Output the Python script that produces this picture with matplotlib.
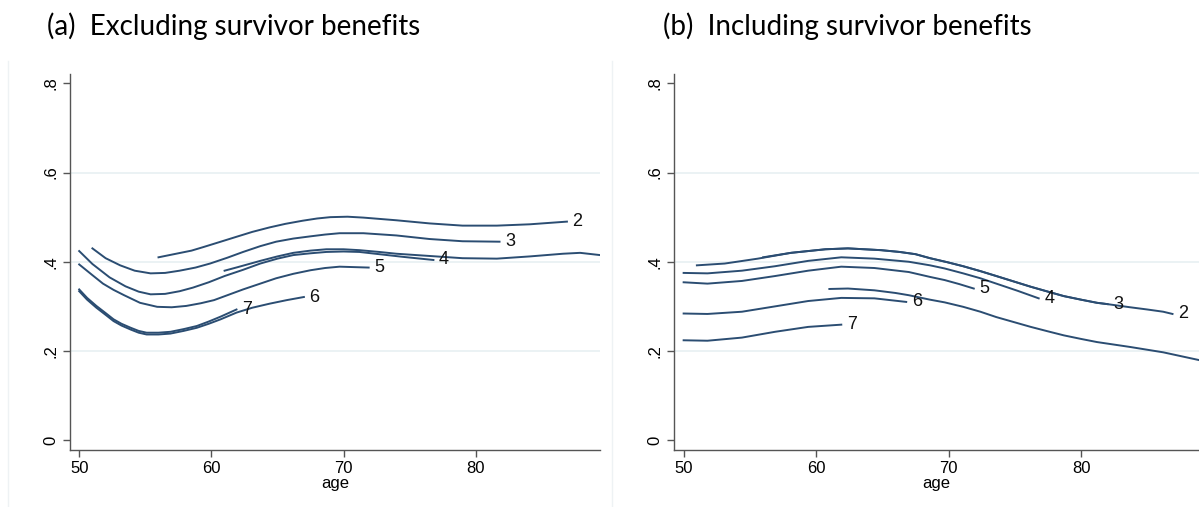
import matplotlib
matplotlib.use("Agg")
import matplotlib.pyplot as plt
from matplotlib.lines import Line2D

# ---- data (age, share) ----
# panel (a): excluding survivor benefits
a_age1 = [61, 62, 63.7, 65, 66.2, 67.5, 68.7, 70, 71.2, 72.7, 74, 76.5, 79, 81.6, 84.1, 86.6, 87.9, 89.4]
a_val1 = [0.380, 0.388, 0.402, 0.412, 0.420, 0.425, 0.428, 0.428, 0.426, 0.422, 0.418, 0.413, 0.408, 0.407, 0.412, 0.418, 0.420, 0.415]
a_age2 = [56, 57.5, 58.5, 59.4, 60.6, 61.9, 63.1, 64.4, 65.6, 66.9, 68, 69, 70.3, 71.5, 74, 76.5, 79, 81.6, 84.1, 86.9]
a_val2 = [0.410, 0.419, 0.425, 0.433, 0.444, 0.456, 0.467, 0.477, 0.485, 0.492, 0.497, 0.500, 0.501, 0.499, 0.493, 0.486, 0.481, 0.481, 0.484, 0.490]
a_age3 = [51, 52, 53.1, 54.2, 55.4, 56.5, 57.6, 58.8, 59.9, 61.2, 62.4, 63.7, 64.9, 66.2, 67.5, 68.6, 69.7, 71.5, 74, 76.5, 79, 81.8]
a_val3 = [0.430, 0.408, 0.392, 0.380, 0.374, 0.375, 0.380, 0.387, 0.396, 0.409, 0.422, 0.435, 0.445, 0.452, 0.457, 0.461, 0.464, 0.464, 0.459, 0.451, 0.446, 0.445]
a_age4 = [50, 51, 52.3, 53.5, 54.5, 55.4, 56.5, 57.6, 58.6, 59.8, 61, 62.4, 63.7, 65, 66.2, 67.5, 68.7, 70, 71.2, 72.7, 74.5, 76.8]
a_val4 = [0.424, 0.395, 0.365, 0.345, 0.333, 0.327, 0.328, 0.334, 0.342, 0.354, 0.368, 0.382, 0.396, 0.407, 0.415, 0.419, 0.422, 0.423, 0.422, 0.417, 0.411, 0.404]
a_age5 = [50, 51, 51.8, 52.6, 53.4, 54.6, 55.9, 57, 58.1, 59.2, 60.2, 61.3, 62.4, 63.7, 64.9, 66.2, 67.5, 68.6, 69.7, 71.9]
a_val5 = [0.394, 0.370, 0.351, 0.337, 0.325, 0.308, 0.299, 0.298, 0.301, 0.307, 0.314, 0.326, 0.338, 0.351, 0.363, 0.373, 0.381, 0.386, 0.389, 0.387]
a_age6 = [50, 50.6, 51.3, 52, 52.6, 53.2, 53.9, 54.5, 55.1, 56, 56.9, 57.9, 58.9, 59.8, 60.7, 61.9, 63.1, 64.4, 65.7, 67.0]
a_val6 = [0.334, 0.315, 0.297, 0.281, 0.267, 0.257, 0.248, 0.241, 0.237, 0.237, 0.239, 0.245, 0.252, 0.261, 0.271, 0.286, 0.297, 0.306, 0.314, 0.321]
a_age7 = [50, 50.6, 51.3, 52, 52.6, 53.2, 53.9, 54.5, 55.1, 56, 56.9, 57.9, 58.9, 59.8, 60.7, 61.9]
a_val7 = [0.338, 0.319, 0.301, 0.285, 0.271, 0.261, 0.252, 0.245, 0.241, 0.241, 0.243, 0.249, 0.256, 0.266, 0.277, 0.293]

# panel (b): including survivor benefits
b_age1 = [61, 62.4, 64.4, 66, 67.0, 68.6, 69.7, 71.1, 72.4, 73.6, 74.9, 76.2, 77.5, 78.7, 80, 81.2, 83.7, 86.2, 89.0]
b_val1 = [0.339, 0.340, 0.336, 0.330, 0.325, 0.315, 0.309, 0.299, 0.288, 0.276, 0.265, 0.254, 0.244, 0.235, 0.227, 0.220, 0.209, 0.197, 0.179]
b_age3 = [51, 53.1, 55.6, 58.1, 60.7, 62.4, 64.9, 66.3, 67.5, 68.6, 69.9, 71.1, 72.4, 73.6, 74.9, 76.2, 77.5, 78.7, 80, 81.2, 82.0]
b_val3 = [0.392, 0.396, 0.407, 0.420, 0.428, 0.430, 0.426, 0.422, 0.417, 0.408, 0.399, 0.390, 0.379, 0.368, 0.356, 0.344, 0.333, 0.323, 0.315, 0.308, 0.305]
b_age2 = [56, 58.1, 60.7, 62.4, 64.9, 66.3, 67.5, 68.6, 69.9, 71.1, 72.4, 73.6, 74.9, 76.2, 77.5, 78.7, 80, 81.2, 82.0, 83.7, 85, 86.2, 86.9]
b_val2 = [0.410, 0.420, 0.428, 0.430, 0.426, 0.422, 0.417, 0.408, 0.399, 0.390, 0.379, 0.368, 0.356, 0.344, 0.333, 0.323, 0.315, 0.308, 0.305, 0.298, 0.293, 0.288, 0.283]
b_age4 = [50, 51.8, 54.4, 56.9, 59.4, 61.9, 64.4, 67.0, 68.6, 69.7, 71.1, 72.4, 73.6, 75.2, 76.8]
b_val4 = [0.375, 0.374, 0.380, 0.390, 0.402, 0.410, 0.407, 0.400, 0.392, 0.385, 0.374, 0.363, 0.351, 0.335, 0.318]
b_age5 = [50, 51.8, 54.4, 56.9, 59.4, 61.9, 64.4, 67.0, 68.6, 69.7, 70.8, 71.9]
b_val5 = [0.354, 0.351, 0.357, 0.368, 0.380, 0.389, 0.386, 0.377, 0.366, 0.359, 0.350, 0.340]
b_age6 = [50, 51.8, 54.4, 56.9, 59.4, 61.9, 64.4, 66.8]
b_val6 = [0.284, 0.283, 0.288, 0.300, 0.312, 0.319, 0.318, 0.310]
b_age7 = [50, 51.8, 54.4, 56.9, 59.4, 61.9]
b_val7 = [0.224, 0.223, 0.230, 0.243, 0.254, 0.259]

panel_a = [("1", a_age1, a_val1, False), ("2", a_age2, a_val2, True), ("3", a_age3, a_val3, True),
           ("4", a_age4, a_val4, True), ("5", a_age5, a_val5, True), ("6", a_age6, a_val6, True),
           ("7", a_age7, a_val7, True)]
panel_b = [("1", b_age1, b_val1, False), ("2", b_age2, b_val2, True), ("3", b_age3, b_val3, True),
           ("4", b_age4, b_val4, True), ("5", b_age5, b_val5, True), ("6", b_age6, b_val6, True),
           ("7", b_age7, b_val7, True)]

titles = ["(a)  Excluding survivor benefits", "(b)  Including survivor benefits"]
yticks = [0, 0.2, 0.4, 0.6, 0.8]
yticklabels = ["0", ".2", ".4", ".6", ".8"]
xticks = [50, 60, 70, 80]

line_col = "#2b4d72"
axis_col = "#555555"
grid_col = "#e8f0f2"

plt.rcParams['font.family'] = ['Liberation Sans', 'DejaVu Sans']
fig = plt.figure(figsize=(11.99, 5.07), dpi=100)


def draw(ax, series, xmax):
    for y in [0.2, 0.4, 0.6]:
        ax.axhline(y, color=grid_col, lw=1.2, zorder=0)
    for lab, ages, vals, show in series:
        ax.plot(ages, vals, color=line_col, lw=1.4, zorder=2)
        if show:
            ax.annotate(lab, (ages[-1], vals[-1]), xytext=(4, 0), textcoords="offset points",
                        ha="left", va="center", fontsize=13, color="#111111")
    ax.set_xlim(49.27, xmax)
    ax.set_ylim(-0.022, 0.822)
    ax.set_yticks(yticks)
    ax.set_yticklabels(yticklabels, rotation=90, va="center")
    ax.set_xticks(xticks)
    ax.set_xlabel("age", fontsize=12, labelpad=0)
    for s in ["top", "right"]:
        ax.spines[s].set_visible(False)
    for s in ["left", "bottom"]:
        ax.spines[s].set_color(axis_col)
        ax.spines[s].set_linewidth(1.0)
    ax.tick_params(direction="out", length=5, width=1, color=axis_col, labelsize=12, pad=3)
    ax.patch.set_alpha(0)


ax1 = fig.add_axes([0.058, 0.1124, 0.4424, 0.7426])
draw(ax1, panel_a, 89.4)
ax2 = fig.add_axes([0.5621, 0.1124, 0.4379, 0.7426])
draw(ax2, panel_b, 88.9)

# faint borders of the two pasted panels
for xp in [8 / 1199, 612 / 1199]:
    fig.add_artist(Line2D([xp, xp], [0, 1 - 61 / 507], color="#eef2f4", lw=1))

fig.text(47 / 1199, 0.948, titles[0], fontsize=20, family="Lato", va="center", ha="left")
fig.text(663 / 1199, 0.948, titles[1], fontsize=20, family="Lato", va="center", ha="left")

fig.savefig("out.png", dpi=100)
